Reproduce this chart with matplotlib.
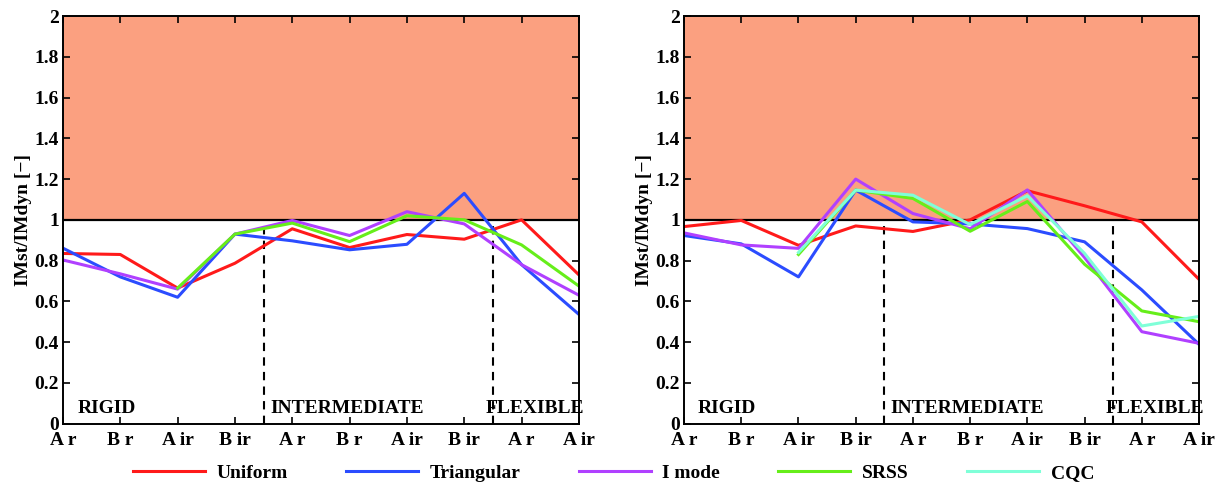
import numpy as np
import matplotlib
matplotlib.use("Agg")
import matplotlib.pyplot as plt

plt.rcParams['font.family'] = ['Liberation Serif', 'DejaVu Serif']
plt.rcParams['font.weight'] = 'bold'
plt.rcParams['axes.labelweight'] = 'bold'

# ---------------------------------------------------------------------------
# Data: IMst/IMdyn ratio per case, two panels
# ---------------------------------------------------------------------------
tick_labels = ["A r", "B r", "A ir", "B ir", "A r", "B r", "A ir", "B ir", "A r", "A ir"]
series_names = ["Uniform", "Triangular", "I mode", "SRSS", "CQC"]
colors = ["#ff1a1a", "#2b4cff", "#b040ff", "#66ee1a", "#7fffd8"]
nan = np.nan

left_uniform = [0.835, 0.83, 0.665, 0.787, 0.956, 0.864, 0.928, 0.905, 1.0, 0.73]
left_triangular = [0.861, 0.72, 0.62, 0.93, 0.897, 0.853, 0.88, 1.13, 0.78, 0.536]
left_imode = [0.803, 0.735, 0.66, 0.93, 0.997, 0.923, 1.04, 0.98, 0.78, 0.63]
left_srss = [nan, nan, 0.665, 0.93, 0.984, 0.893, 1.02, 1.0, 0.877, 0.675]
left_cqc = [nan] * 10

right_uniform = [0.967, 0.997, 0.875, 0.97, 0.943, 1.0, 1.143, 1.069, 0.99, 0.708]
right_triangular = [0.923, 0.882, 0.72, 1.146, 0.99, 0.98, 0.957, 0.892, 0.656, 0.389]
right_imode = [0.936, 0.877, 0.86, 1.2, 1.031, 0.956, 1.147, 0.815, 0.451, 0.394]
right_srss = [nan, nan, 0.83, 1.146, 1.105, 0.944, 1.09, 0.782, 0.553, 0.5]
right_cqc = [nan, nan, 0.84, 1.146, 1.121, 0.977, 1.118, 0.835, 0.479, 0.526]

group_names = ["RIGID", "INTERMEDIATE", "FLEXIBLE"]
group_bounds = [3.5, 7.5]

yticks = [0, 0.2, 0.4, 0.6, 0.8, 1, 1.2, 1.4, 1.6, 1.8, 2]
ytick_labels = ["0", "0.2", "0.4", "0.6", "0.8", "1", "1.2", "1.4", "1.6", "1.8", "2"]

# ---------------------------------------------------------------------------
# Figure
# ---------------------------------------------------------------------------
fig = plt.figure(figsize=(12.27, 4.88), dpi=100)
ax_l = fig.add_axes([0.0513, 0.132, 0.4205, 0.835])
ax_r = fig.add_axes([0.5575, 0.132, 0.4197, 0.835])

panels = [
    (ax_l, [left_uniform, left_triangular, left_imode, left_srss, left_cqc], [0.26, 3.62, 7.38]),
    (ax_r, [right_uniform, right_triangular, right_imode, right_srss, right_cqc], [0.23, 3.6, 7.36]),
]

x = np.arange(len(tick_labels))
handles = []
for ax, data, label_x in panels:
    ax.axhspan(1, 2, color="#fba080", lw=0, zorder=0)
    ax.axhline(1, color="black", lw=1.6, zorder=1)
    for b in group_bounds:
        ax.plot([b, b], [0, 1], color="black", lw=1.5, ls=(0, (4, 3)), zorder=1)
    hs = []
    for vals, name, c in zip(data, series_names, colors):
        h, = ax.plot(x, vals, color=c, lw=2.2, label=name, zorder=2)
        hs.append(h)
    handles = hs
    for gx, gname in zip(label_x, group_names):
        ax.text(gx, 0.075, gname, fontsize=14, va="center", ha="left", zorder=3)

    ax.set_xlim(0, 9)
    ax.set_ylim(0, 2)
    ax.set_xticks(x)
    ax.set_xticklabels(tick_labels)
    ax.set_yticks(yticks)
    ax.set_yticklabels(ytick_labels)
    ax.tick_params(direction="in", top=True, right=True, labelsize=14, length=5, width=1.2)
    ax.tick_params(axis="x", pad=6)
    ax.tick_params(axis="y", pad=3)
    for s in ax.spines.values():
        s.set_linewidth(1.4)
    ax.set_ylabel("IMst/IMdyn [−]", fontsize=14, labelpad=2)

fig.legend(handles, series_names, loc="center", bbox_to_anchor=(0.5, 0.03), ncol=5,
           frameon=False, fontsize=14, handlelength=3.7, handletextpad=0.6,
           columnspacing=3.0)

fig.savefig("out.png", dpi=100)
